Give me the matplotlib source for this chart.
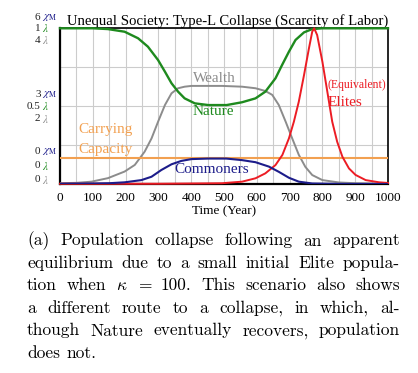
import matplotlib
matplotlib.use('Agg')
import matplotlib.pyplot as plt
import numpy as np

# Datos (años)
nature_t = [0, 100, 146, 197, 238, 268, 299, 320, 340, 360, 380, 411, 452, 508, 555, 596,
            626, 657, 677, 698, 718, 744, 769, 800, 1000]
nature_v = [1.0, 1.0, 0.995, 0.978, 0.936, 0.882, 0.796, 0.721, 0.647, 0.593, 0.55, 0.518,
            0.507, 0.507, 0.525, 0.55, 0.593, 0.679, 0.764, 0.85, 0.925, 0.974, 0.995, 1.0, 1.0]

wealth_t = [0, 50, 96, 146, 197, 228, 258, 279, 299, 320, 340, 360, 380, 401, 494, 555,
            596, 626, 647, 667, 688, 708, 728, 748, 769, 800, 850, 900, 1000]
wealth_v = [0.02, 0.03, 0.06, 0.15, 0.32, 0.49, 0.83, 1.17, 1.6, 2.03, 2.33, 2.46, 2.5, 2.52,
            2.52, 2.5, 2.46, 2.39, 2.29, 2.03, 1.6, 1.17, 0.75, 0.44, 0.23, 0.10, 0.04, 0.02, 0.01]

commoners_t = [0, 100, 150, 197, 248, 279, 309, 340, 370, 401, 452, 507, 555, 596, 637,
               667, 698, 728, 769, 850, 1000]
commoners_v = [0.01, 0.02, 0.03, 0.065, 0.15, 0.28, 0.54, 0.76, 0.89, 0.96, 0.98, 0.98, 0.92,
               0.84, 0.67, 0.47, 0.24, 0.09, 0.02, 0.005, 0.0]

elites_t = [0, 300, 400, 494, 555, 596, 626, 657, 678, 698, 713, 728, 744, 759, 769, 775,
            784, 800, 815, 830, 845, 861, 881, 901, 932, 973, 1000]
elites_v = [0.01, 0.01, 0.02, 0.03, 0.09, 0.22, 0.41, 0.73, 1.12, 1.76, 2.40, 3.17, 4.2, 5.23,
            5.87, 6.0, 5.74, 4.71, 3.56, 2.40, 1.63, 1.05, 0.6, 0.35, 0.15, 0.065, 0.04]

carrying_capacity = 1.02

x_ticks = list(range(0, 1001, 100))
chi_ticks = [0, 3, 6]
chi_labels = ['0', '3', '6']
lam_nature_labels = ['0', '0.5', '1']
lam_wealth_labels = ['0', '2', '4']

caption_lines = [
    ['(a)', 'Population', 'collapse', 'following', 'an', 'apparent'],
    ['equilibrium', 'due', 'to', 'a', 'small', 'initial', 'Elite', 'popula-'],
    ['tion', 'when', '$\\kappa$', '=', '100.', 'This', 'scenario', 'also', 'shows'],
    ['a', 'different', 'route', 'to', 'a', 'collapse,', 'in', 'which,', 'al-'],
    ['though', 'Nature', 'eventually', 'recovers,', 'population'],
    ['does', 'not.'],
]

GREEN = '#1e8a1e'
NAVY = '#1c1c8a'
RED = '#ec1c24'
GRAY = '#8c8c8c'
ORANGE = '#f2a050'
SERIF = ['Liberation Serif', 'DejaVu Serif']
W, H = 418, 373

fig = plt.figure(figsize=(W / 100, H / 100), dpi=100)
ax = fig.add_axes([60 / W, 1 - 184 / H, 328 / W, 155.7 / H])

# Todo en escala chi_M (0..6); Nature y Wealth reescaladas
nat = np.array(nature_v) * 6
wea = np.array(wealth_v) * 6 / 4
ax.plot(wealth_t, wea, color=GRAY, lw=1.4, zorder=3)
ax.plot(nature_t, nat, color=GREEN, lw=1.7, zorder=4, clip_on=False)
ax.axhline(carrying_capacity, color=ORANGE, lw=1.5, zorder=3)
ax.plot(elites_t, elites_v, color=RED, lw=1.4, zorder=4, clip_on=False)
ax.plot(commoners_t, commoners_v, color=NAVY, lw=1.5, zorder=5)

ax.set_xlim(0, 1000)
ax.set_ylim(0, 6)
ax.set_xticks(np.arange(0, 1001, 50), minor=True)
ax.set_xticks(x_ticks)
ax.set_xticklabels([str(t) for t in x_ticks], fontfamily=SERIF, fontsize=9.5)
ax.set_yticks([0, 1.5, 3, 4.5, 6])
ax.set_yticklabels([])
ax.tick_params(axis='both', length=0, pad=6)
ax.tick_params(axis='x', which='minor', length=0)
ax.grid(True, which='both', color='#cccccc', lw=0.8, zorder=0)
for side in ['top', 'right']:
    ax.spines[side].set_linewidth(1.2)
for side in ['left', 'bottom']:
    ax.spines[side].set_linewidth(1.6)

ax.set_xlabel('Time (Year)', fontfamily=SERIF, fontsize=9.5, labelpad=1)
ax.set_title('Unequal Society: Type-L Collapse (Scarcity of Labor)',
             fontfamily=SERIF, fontsize=10.6, pad=2, loc='right')

# Etiquetas del eje y apiladas (desplazamientos en px, hacia arriba)
group_offsets = {0: (32.5, 18, 4.5), 3: (11.5, 0, -12.5), 6: (11, 0, -12)}
for val, c, ln, lw in zip(chi_ticks, chi_labels, lam_nature_labels, lam_wealth_labels):
    base = ax.transData.transform((0, val))[1]
    d_chi, d_nat, d_wea = group_offsets[val]
    rows = [(c, r'$\chi_{\mathrm{M}}$', NAVY, d_chi), (ln, r'$\lambda$', GREEN, d_nat),
            (lw, r'$\lambda$', GRAY, d_wea)]
    for num, unit, col, dy in rows:
        yf = (base + dy) / fig.bbox.height
        fig.text(40.5 / W, yf, num, ha='right', va='center', fontfamily=SERIF,
                 fontsize=8, color='#222222')
        fig.text(42.5 / W, yf, unit, ha='left', va='center', fontsize=8,
                 color=col, math_fontfamily='stix')

# Etiquetas de las series
ax.text(55, 2.1, 'Carrying', color=ORANGE, fontfamily=SERIF, fontsize=11, va='center')
ax.text(55, 1.34, 'Capacity', color=ORANGE, fontfamily=SERIF, fontsize=11, va='center')
ax.text(405, 4.05, 'Wealth', color=GRAY, fontfamily=SERIF, fontsize=11, va='center')
ax.text(405, 2.8, 'Nature', color=GREEN, fontfamily=SERIF, fontsize=11, va='center')
ax.text(350, 0.57, 'Commoners', color=NAVY, fontfamily=SERIF, fontsize=11, va='center')
ax.text(817, 3.8, '(Equivalent)', color=RED, fontfamily=SERIF, fontsize=8.5, va='center')
ax.text(817, 3.15, 'Elites', color=RED, fontfamily=SERIF, fontsize=11, va='center')

# Pie de figura justificado
renderer = fig.canvas.get_renderer()
x_left, x_right = 27, 400
line_y = [245.5, 268, 290.5, 313, 335.5, 358]
cap_kw = dict(fontfamily='cmr10', fontsize=12.5, math_fontfamily='cm', va='baseline')
for i, words in enumerate(caption_lines):
    texts = [fig.text(0, 0, w, **cap_kw) for w in words]
    widths = [t.get_window_extent(renderer).width for t in texts]
    if i < len(caption_lines) - 1:
        gap = (x_right - x_left - sum(widths)) / (len(words) - 1)
    else:
        gap = 6
    x = x_left
    for t, w in zip(texts, widths):
        t.set_position((x / W, 1 - line_y[i] / H))
        x += w + gap

fig.savefig('out.png', dpi=100)
